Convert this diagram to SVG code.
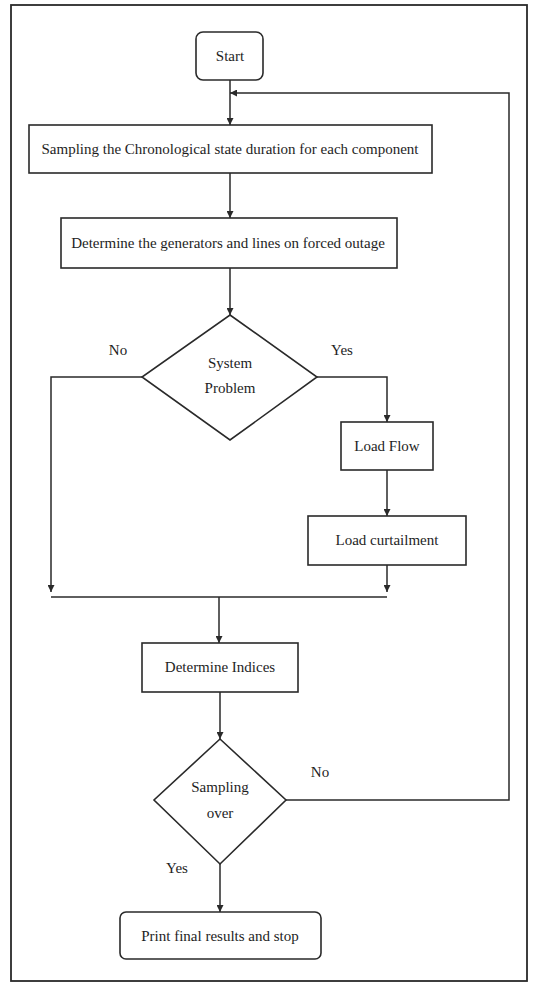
<svg xmlns="http://www.w3.org/2000/svg" width="536" height="983" viewBox="0 0 536 983">
<style>
.s{fill:#fff;stroke:#2a2a2a;stroke-width:1.6}
.c{fill:none;stroke:#2a2a2a;stroke-width:1.5}
.t{font-family:"Liberation Serif","Times New Roman",serif;font-size:15px;fill:#1e1e1e;text-anchor:middle;dominant-baseline:central}
</style>
<defs>
<marker id="a" viewBox="0 0 10 10" refX="10" refY="5" markerWidth="7" markerHeight="7" orient="auto" markerUnits="userSpaceOnUse"><path d="M0,0 L10,5 L0,10 Z" fill="#2a2a2a"/></marker>
</defs>
<rect x="0" y="0" width="536" height="983" fill="#fff"/>
<rect x="11" y="5" width="516" height="976" fill="none" stroke="#2a2a2a" stroke-width="1.8"/>
<g id="connectors">
<line class="c" x1="230" y1="80" x2="230" y2="125" marker-end="url(#a)"/>
<line class="c" x1="230" y1="173" x2="230" y2="218" marker-end="url(#a)"/>
<line class="c" x1="230" y1="268" x2="230" y2="315" marker-end="url(#a)"/>
<polyline class="c" points="142,377 51,377 51,592" marker-end="url(#a)"/>
<polyline class="c" points="317,377 387,377 387,422" marker-end="url(#a)"/>
<line class="c" x1="387" y1="470" x2="387" y2="516" marker-end="url(#a)"/>
<line class="c" x1="387" y1="565" x2="387" y2="592" marker-end="url(#a)"/>
<line class="c" x1="51" y1="597" x2="387" y2="597"/>
<line class="c" x1="219" y1="597" x2="219" y2="643" marker-end="url(#a)"/>
<line class="c" x1="220" y1="692" x2="220" y2="739" marker-end="url(#a)"/>
<polyline class="c" points="286,800 509,800 509,93 230,93" marker-end="url(#a)"/>
<line class="c" x1="220" y1="864" x2="220" y2="912" marker-end="url(#a)"/>
<text class="t" x="118" y="350">No</text>
<text class="t" x="342" y="350">Yes</text>
<text class="t" x="320" y="772">No</text>
<text class="t" x="177" y="868">Yes</text>
</g>
<g id="start"><rect class="s" x="196" y="32" width="67" height="48" rx="7"/><text class="t" x="230" y="56">Start</text></g>
<g id="sampling"><rect class="s" x="29" y="125" width="403" height="48"/><text class="t" x="230" y="149">Sampling the Chronological state duration for each component</text></g>
<g id="determine"><rect class="s" x="61" y="218" width="336" height="50"/><text class="t" x="228" y="243">Determine the generators and lines on forced outage</text></g>
<g id="system"><polygon class="s" points="230,315 317,377 230,440 142,377"/><text class="t" x="230" y="363">System</text><text class="t" x="230" y="388">Problem</text></g>
<g id="loadflow"><rect class="s" x="341" y="422" width="92" height="48"/><text class="t" x="387" y="446">Load Flow</text></g>
<g id="curtail"><rect class="s" x="308" y="516" width="158" height="49"/><text class="t" x="387" y="540">Load curtailment</text></g>
<g id="indices"><rect class="s" x="142" y="643" width="156" height="49"/><text class="t" x="220" y="667">Determine Indices</text></g>
<g id="over"><polygon class="s" points="220,739 286,800 220,864 154,800"/><text class="t" x="220" y="787">Sampling</text><text class="t" x="220" y="813">over</text></g>
<g id="print"><rect class="s" x="120" y="912" width="201" height="47" rx="6"/><text class="t" x="220" y="936">Print final results and stop</text></g>
</svg>
